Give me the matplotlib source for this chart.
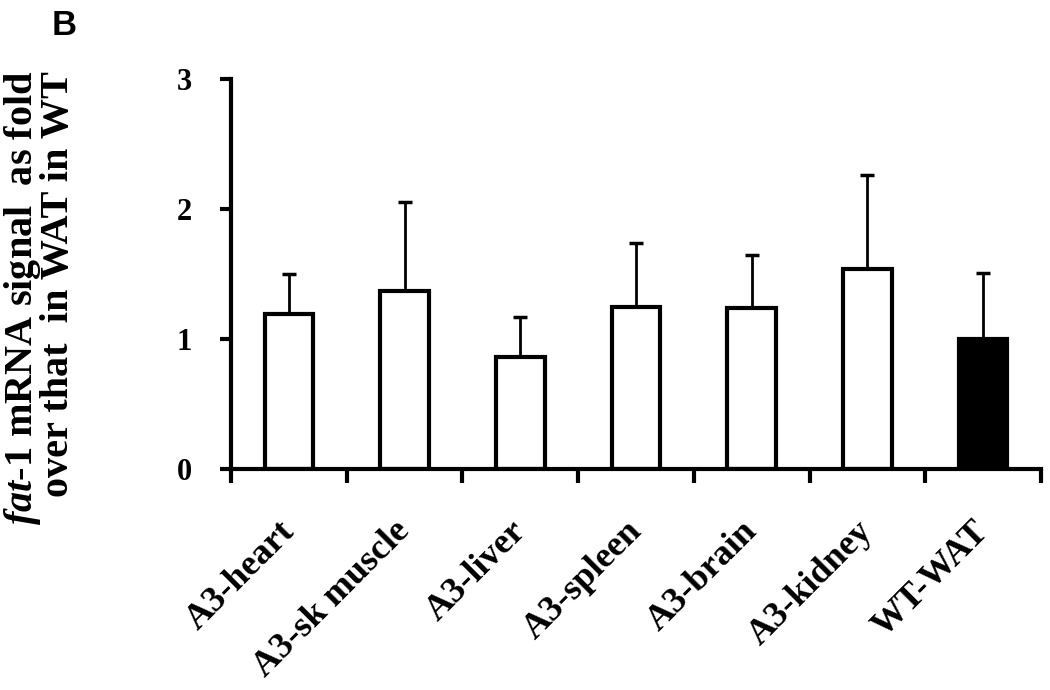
import matplotlib
matplotlib.use("Agg")
import matplotlib.pyplot as plt
import matplotlib.transforms as mtransforms
import numpy as np

categories = ["A3-heart", "A3-sk muscle", "A3-liver", "A3-spleen", "A3-brain", "A3-kidney", "WT-WAT"]
means = [1.19, 1.37, 0.86, 1.25, 1.24, 1.54, 1.00]
errors = [0.31, 0.68, 0.31, 0.49, 0.41, 0.72, 0.51]
fills = ["white", "white", "white", "white", "white", "white", "black"]
yticks = [0, 1, 2, 3]

plt.rcParams['font.family'] = 'Liberation Serif'
plt.rcParams['font.weight'] = 'bold'
plt.rcParams['mathtext.fontset'] = 'custom'
plt.rcParams['mathtext.it'] = 'Liberation Serif:italic:bold'
plt.rcParams['mathtext.rm'] = 'Liberation Serif:bold'

fig = plt.figure(figsize=(10.5, 6.9), dpi=100)
ax = fig.add_axes([231/1050, 1-469/690, (1041-231)/1050, (469-79)/690])

x = np.arange(len(categories)) + 0.5
ax.bar(x, means, width=0.42, color=fills, edgecolor="black", linewidth=3.0, zorder=2)
ax.errorbar(x, means, yerr=[np.zeros(len(errors)), errors], fmt="none", ecolor="black",
            elinewidth=2.0, capsize=5, capthick=2.5, zorder=1)

ax.set_xlim(0, len(categories))
ax.set_ylim(0, 3)
for s in ["top", "right"]:
    ax.spines[s].set_visible(False)
for s in ["left", "bottom"]:
    ax.spines[s].set_linewidth(3.0)

ax.set_yticks(yticks)
ax.set_yticklabels([str(v) for v in yticks], fontsize=22, fontweight="bold")
ax.tick_params(axis="y", direction="out", length=8, width=3.0, pad=20)

ax.set_xticks(np.arange(len(categories) + 1))
ax.set_xticklabels([])
ax.tick_params(axis="x", which="major", direction="out", length=10, width=3.0)
ax.set_xticks(x, minor=True)
ax.set_xticklabels(categories, minor=True, rotation=45, ha="right", rotation_mode="anchor",
                   fontsize=26, fontweight="bold")
ax.tick_params(axis="x", which="minor", length=0, pad=33)
shift = mtransforms.ScaledTranslation(-11/100, 0, fig.dpi_scale_trans)
for lbl in ax.get_xticklabels(minor=True):
    lbl.set_transform(lbl.get_transform() + shift)

ax.set_ylabel(r"$\mathit{fat}$-$\mathit{1}$ mRNA signal  as fold" + "\n" + "over that  in WAT in WT",
              fontsize=29, fontweight="bold", linespacing=0.9, multialignment="right")
ax.yaxis.set_label_coords((77 - 231) / 810, (469 - 298) / 390)

fig.text(52/1050, 1-35/690, "B", fontsize=25, fontweight="bold", family="Liberation Sans")

fig.savefig("out.png", dpi=100)
